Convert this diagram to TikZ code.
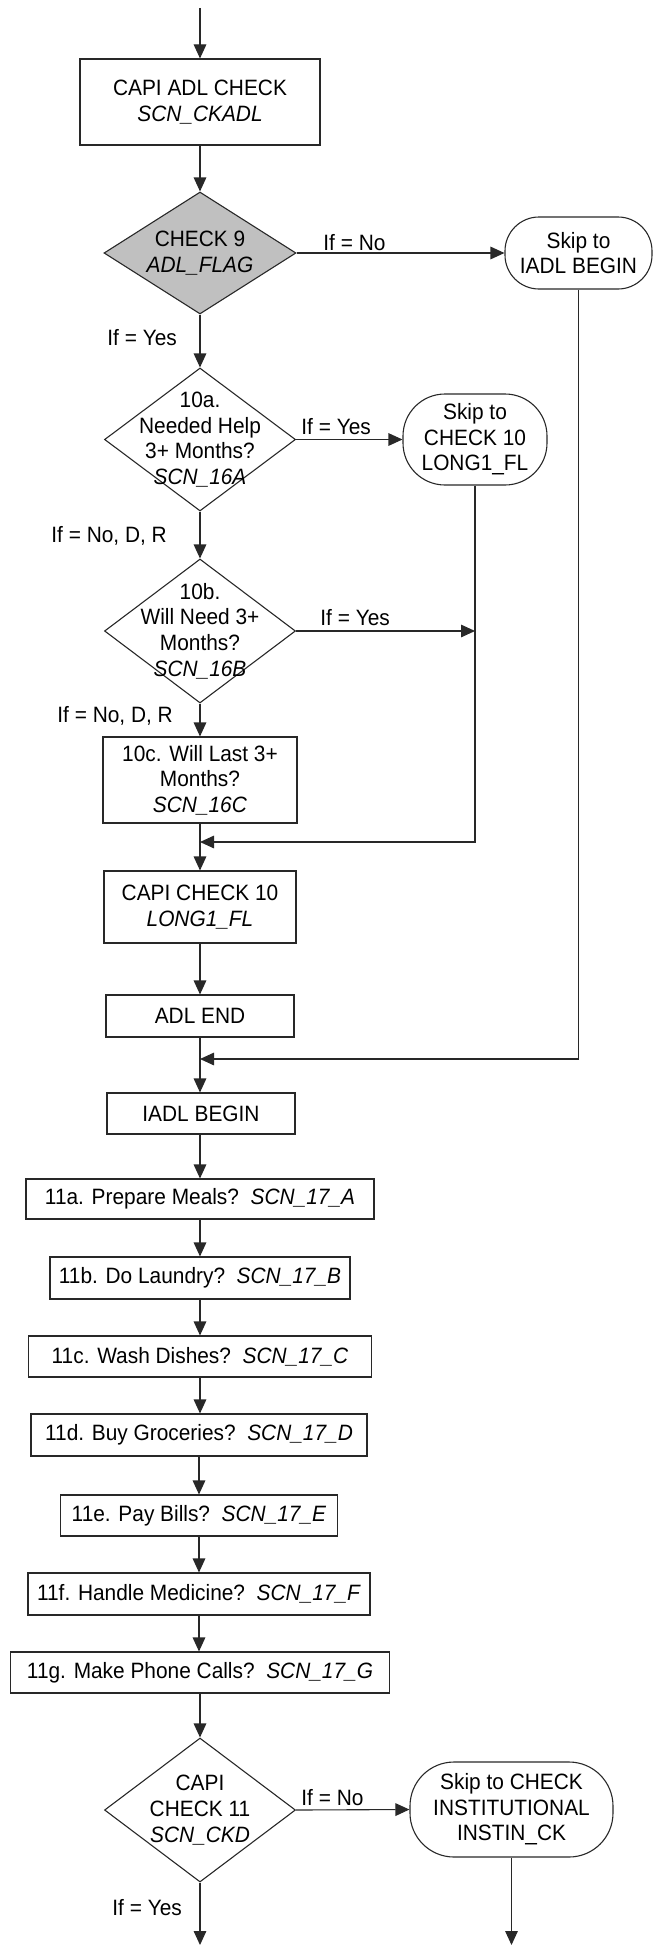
\documentclass[tikz,border=0pt]{standalone}
\usepackage{fontspec}
\setmainfont[FakeStretch=0.94]{Liberation Sans}
\usetikzlibrary{shapes.geometric,arrows.meta}
\definecolor{chkgray}{RGB}{192,192,192}
\definecolor{linecol}{RGB}{40,40,40}
\begin{document}
\begin{tikzpicture}[x=0.5pt,y=-0.5pt,
  font=\fontsize{11.1pt}{12.8pt}\selectfont,
  box/.style={draw=linecol, line width=0.55pt, rectangle, align=center, inner sep=0pt},
  dia/.style={draw=linecol, line width=0.55pt, diamond, inner sep=0pt},
  term/.style={draw=linecol, line width=0.55pt, rectangle, align=center, inner sep=0pt},
  txt/.style={align=center, inner sep=0pt},
  arr/.style={draw=linecol, line width=0.55pt, -{Triangle[length=7pt,width=6.3pt]}},
  ln/.style={draw=linecol, line width=0.55pt},
  lab/.style={anchor=base west, inner sep=0pt}
]
\useasboundingbox (0,0) rectangle (654,1948);

% --- nodes ---
\coordinate (start) at (200,8);
\node[box, minimum width=120pt, minimum height=43pt] (b1) at (200,102) {CAPI ADL CHECK\\\textit{SCN\_CKADL}};

\node[dia, fill=chkgray, minimum width=96pt, minimum height=61pt] (d9) at (200,253) {};
\node[txt] (d9t) at (d9) {CHECK 9\\\textit{ADL\_FLAG}};

\node[term, rounded corners=17pt, minimum width=73.5pt, minimum height=36pt] (o1) at (578.5,253) {Skip to\\IADL BEGIN};

\node[dia, minimum width=95.5pt, minimum height=71.5pt] (d10a) at (200,439.5) {};
\node[txt] (d10at) at (d10a) {10a.\\Needed Help\\3+ Months?\\\textit{SCN\_16A}};

\node[term, rounded corners=21pt, minimum width=72pt, minimum height=45.5pt] (o2) at (475,439.5) {Skip to\\CHECK 10\\LONG1\_FL};

\node[dia, minimum width=95.5pt, minimum height=72pt] (d10b) at (200,631) {};
\node[txt] (d10bt) at (d10b) {10b.\\Will Need 3+\\Months?\\\textit{SCN\_16B}};

\node[box, minimum width=97pt, minimum height=43pt] (b10c) at (200,780) {10c. Will Last 3+\\Months?\\\textit{SCN\_16C}};

\coordinate (m1) at (200,842);

\node[box, minimum width=96pt, minimum height=36pt] (c10) at (200,907) {CAPI CHECK 10\\\textit{LONG1\_FL}};

\node[box, minimum width=94pt, minimum height=21pt] (adlend) at (200,1016) {ADL END};

\coordinate (m2) at (200,1059);

\node[box, minimum width=94pt, minimum height=20.5pt] (iadl) at (201,1113.5) {IADL BEGIN};

\node[box, minimum width=174pt, minimum height=20pt] (q11a) at (200,1199) {11a. Prepare Meals?~~\textit{SCN\_17\_A}};
\node[box, minimum width=150pt, minimum height=21pt] (q11b) at (200,1278) {11b. Do Laundry?~~\textit{SCN\_17\_B}};
\node[box, minimum width=171.5pt, minimum height=20.5pt] (q11c) at (200,1356.5) {11c. Wash Dishes?~~\textit{SCN\_17\_C}};
\node[box, minimum width=168pt, minimum height=21pt] (q11d) at (199,1435) {11d. Buy Groceries?~~\textit{SCN\_17\_D}};
\node[box, minimum width=138.5pt, minimum height=20.5pt] (q11e) at (199,1515.5) {11e. Pay Bills?~~\textit{SCN\_17\_E}};
\node[box, minimum width=171pt, minimum height=21pt] (q11f) at (199,1594) {11f. Handle Medicine?~~\textit{SCN\_17\_F}};
\node[box, minimum width=189.5pt, minimum height=20.5pt] (q11g) at (200,1672.5) {11g. Make Phone Calls?~~\textit{SCN\_17\_G}};

\node[dia, minimum width=95.5pt, minimum height=72pt] (d11) at (200,1810) {};
\node[txt] (d11t) at (d11) {CAPI\\CHECK 11\\\textit{SCN\_CKD}};

\node[term, rounded corners=22pt, minimum width=101.5pt, minimum height=47.5pt] (o3) at (511.5,1809.5) {Skip to CHECK\\INSTITUTIONAL\\INSTIN\_CK};

\coordinate (end1) at (200,1945);
\coordinate (end2) at (510,1945);

% --- labels ---
\node[lab] (l1) at (323,250.5) {If = No};
\node[lab] (l2) at (107,345.5) {If = Yes};
\node[lab] (l3) at (301,434.5) {If = Yes};
\node[lab] (l4) at (51,542.5) {If = No, D, R};
\node[lab] (l5) at (320,625.5) {If = Yes};
\node[lab] (l6) at (57,722.5) {If = No, D, R};
\node[lab] (l7) at (301,1805.5) {If = No};
\node[lab] (l8) at (112,1915.5) {If = Yes};

% --- connectors ---
\draw[arr] (start) -- (b1.north);
\draw[arr] (b1.south) -- (d9.north);
\draw[arr] (d9.east) -- (o1.west);
\draw[arr] (d9.south) -- (d10a.north);
\draw[arr] (d10a.east) -- (o2.west);
\draw[arr] (d10a.south) -- (d10b.north);
\draw[arr] (d10b.east) -- (d10b.east -| o2.south);
\draw[arr] (d10b.south) -- (b10c.north);
\draw[arr] (b10c.south) -- (c10.north);
\draw[arr] (o2.south) |- (m1);
\draw[arr] (c10.south) -- (adlend.north);
\draw[arr] (adlend.south) -- (adlend.south |- iadl.north);
\draw[arr] (o1.south) |- (m2);
\draw[arr] (iadl.south -| q11a.north) -- (q11a.north);
\draw[arr] (q11a.south) -- (q11b.north);
\draw[arr] (q11b.south) -- (q11c.north);
\draw[arr] (q11c.south) -- (q11c.south |- q11d.north);
\draw[arr] (q11d.south) -- (q11d.south |- q11e.north);
\draw[arr] (q11e.south) -- (q11e.south |- q11f.north);
\draw[arr] (q11f.south) -- (q11f.south |- q11g.north);
\draw[arr] (q11g.south) -- (d11.north);
\draw[arr] (d11.east) -- (o3.west);
\draw[arr] (d11.south) -- (end1);
\draw[arr] (o3.south) -- (o3.south |- end2);
\end{tikzpicture}
\end{document}
